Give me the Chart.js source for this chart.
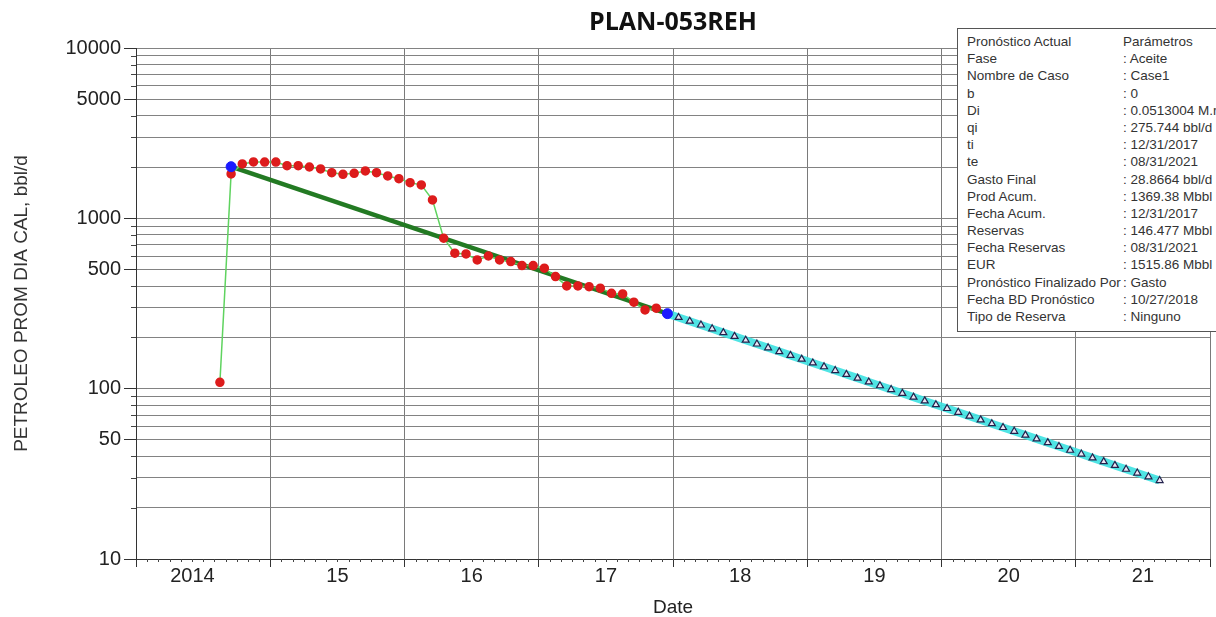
<!DOCTYPE html>
<html>
<head>
<meta charset="utf-8">
<title>PLAN-053REH</title>
<script src="https://cdn.jsdelivr.net/npm/chart.js@4.4.1/dist/chart.umd.min.js"></script>
<style>
  html, body { margin: 0; padding: 0; background: #fff; overflow: hidden; }
  #wrap { position: relative; width: 1216px; height: 617px; overflow: hidden; }
  #infoBox {
    position: absolute; left: 957px; top: 28px; width: 290px; height: 304px;
    box-sizing: border-box; border: 1px solid #555; background: #fff;
    padding-top: 4px;
    font-family: "Liberation Sans", Arial, sans-serif; font-size: 13.5px; color: #333;
  }
  .row { position: relative; height: 17.2px; line-height: 17.2px; white-space: nowrap; }
  .row .k { position: absolute; left: 9px; }
  .row .v { position: absolute; left: 165px; }
</style>
</head>
<body>
<div id="wrap">
  <canvas id="declineChart" width="1216" height="617"></canvas>
  <div id="infoBox"></div>
</div>
<script>
// x axis: years (labels sit inside each year)
const yearLabels = ['2014', '15', '16', '17', '18', '19', '20', '21'];
const xMin = 2014;
const xMax = 2022;

// y axis (log)
const yGridValues = [10, 20, 30, 40, 50, 60, 70, 80, 90,
  100, 200, 300, 400, 500, 600, 700, 800, 900,
  1000, 2000, 3000, 4000, 5000, 6000, 7000, 8000, 9000, 10000];
const yLabelValues = [10, 50, 100, 500, 1000, 5000, 10000];

// monthly history, bbl/d
const histMonths = [
  '2014-08', '2014-09', '2014-10', '2014-11', '2014-12',
  '2015-01', '2015-02', '2015-03', '2015-04', '2015-05', '2015-06',
  '2015-07', '2015-08', '2015-09', '2015-10', '2015-11', '2015-12',
  '2016-01', '2016-02', '2016-03', '2016-04', '2016-05', '2016-06',
  '2016-07', '2016-08', '2016-09', '2016-10', '2016-11', '2016-12',
  '2017-01', '2017-02', '2017-03', '2017-04', '2017-05', '2017-06',
  '2017-07', '2017-08', '2017-09', '2017-10', '2017-11'
];
const histRates = [
  109, 1822, 2085, 2143, 2140,
  2140, 2038, 2038, 2002, 1949, 1854,
  1814, 1839, 1897, 1854, 1773, 1710,
  1620, 1571, 1283, 764, 624, 618,
  570, 601, 570, 557, 528, 528,
  510, 455, 401, 401, 397, 389,
  363, 360, 322, 290, 297
];

// fitted decline (start / end points)
const fitMonths = ['2014-09', '2017-12'];
const fitRates = [2010, 275.744];

// forecast, monthly
const forecastMonths = [
  '2017-12',
  '2018-01', '2018-02', '2018-03', '2018-04', '2018-05', '2018-06',
  '2018-07', '2018-08', '2018-09', '2018-10', '2018-11', '2018-12',
  '2019-01', '2019-02', '2019-03', '2019-04', '2019-05', '2019-06',
  '2019-07', '2019-08', '2019-09', '2019-10', '2019-11', '2019-12',
  '2020-01', '2020-02', '2020-03', '2020-04', '2020-05', '2020-06',
  '2020-07', '2020-08', '2020-09', '2020-10', '2020-11', '2020-12',
  '2021-01', '2021-02', '2021-03', '2021-04', '2021-05', '2021-06',
  '2021-07', '2021-08'
];
const forecastRates = [
  275.74,
  261.96, 248.86, 236.41, 224.59, 213.36, 202.69,
  192.55, 182.92, 173.78, 165.09, 156.83, 148.99,
  141.54, 134.46, 127.74, 121.35, 115.28, 109.52,
  104.04, 98.84, 93.89, 89.20, 84.74, 80.50,
  76.48, 72.65, 69.02, 65.57, 62.29, 59.17,
  56.21, 53.40, 50.73, 48.20, 45.79, 43.50,
  41.32, 39.25, 37.29, 35.43, 33.65, 31.97,
  30.37, 28.87
];

// parameter box
const infoLabels = ['Pronóstico Actual', 'Fase', 'Nombre de Caso', 'b', 'Di', 'qi', 'ti', 'te',
  'Gasto Final', 'Prod Acum.', 'Fecha Acum.', 'Reservas', 'Fecha Reservas', 'EUR',
  'Pronóstico Finalizado Por', 'Fecha BD Pronóstico', 'Tipo de Reserva'];
const infoValues = ['Parámetros', ': Aceite', ': Case1', ': 0', ': 0.0513004 M.n', ': 275.744 bbl/d',
  ': 12/31/2017', ': 08/31/2021', ': 28.8664 bbl/d', ': 1369.38 Mbbl', ': 12/31/2017',
  ': 146.477 Mbbl', ': 08/31/2021', ': 1515.86 Mbbl', ': Gasto', ': 10/27/2018', ': Ninguno'];

// build the info box
const infoBox = document.getElementById('infoBox');
infoLabels.forEach((label, i) => {
  const row = document.createElement('div');
  row.className = 'row';
  row.innerHTML = `<span class="k">${label}</span><span class="v">${infoValues[i]}</span>`;
  infoBox.appendChild(row);
});

// 'YYYY-MM' -> decimal year, middle of the month
function toYear(month) {
  const [y, m] = month.split('-').map(Number);
  return y + (m - 0.5) / 12;
}
function toPoints(months, rates) {
  return months.map((m, i) => ({ x: toYear(m), y: rates[i] }));
}

// year boundaries + one label tick inside each year (first one sits a bit left, like the original)
const xTickValues = [];
for (let yr = xMin; yr <= xMax; yr++) {
  xTickValues.push(yr);
  if (yr < xMax) xTickValues.push(yr + (yr === xMin ? 0.42 : 0.5));
}

// short monthly ticks on x, short ticks for unlabeled y lines
const minorTicks = {
  id: 'minorTicks',
  afterDraw(chart) {
    const { ctx, scales: { x, y }, chartArea } = chart;
    ctx.save();
    ctx.strokeStyle = '#444';
    ctx.lineWidth = 1;
    ctx.beginPath();
    for (let yr = xMin; yr < xMax; yr++) {
      for (let m = 1; m < 12; m++) {
        const px = Math.round(x.getPixelForValue(yr + m / 12)) + 0.5;
        ctx.moveTo(px, chartArea.bottom);
        ctx.lineTo(px, chartArea.bottom + 3);
      }
    }
    yGridValues.forEach(v => {
      if (yLabelValues.includes(v)) return;
      const py = Math.round(y.getPixelForValue(v)) + 0.5;
      ctx.moveTo(chartArea.left - 5, py);
      ctx.lineTo(chartArea.left, py);
    });
    ctx.stroke();
    ctx.restore();
  }
};

Chart.defaults.font.family = '"Liberation Sans", Arial, sans-serif';

new Chart(document.getElementById('declineChart'), {
  type: 'line',
  data: {
    datasets: [
      {
        label: 'Puntos ajuste',
        data: toPoints(fitMonths, fitRates),
        showLine: false,
        pointRadius: 5,
        pointBackgroundColor: '#1a1aff',
        pointBorderColor: '#1a1aff',
        order: 0
      },
      {
        label: 'Historia',
        data: toPoints(histMonths, histRates),
        borderColor: '#5fd35f',
        borderWidth: 1.5,
        pointRadius: 4,
        pointBackgroundColor: '#dd1c1c',
        pointBorderColor: '#dd1c1c',
        tension: 0,
        order: 1
      },
      {
        label: 'Ajuste',
        data: toPoints(fitMonths, fitRates),
        borderColor: '#237a23',
        borderWidth: 4.5,
        pointRadius: 0,
        order: 2
      },
      {
        label: 'Pronóstico',
        data: toPoints(forecastMonths, forecastRates),
        borderColor: 'rgba(60, 225, 225, 0.9)',
        borderWidth: 8,
        pointStyle: 'triangle',
        pointRadius: ctx => ctx.dataIndex === 0 ? 0 : 4,
        pointBackgroundColor: '#ece6f4',
        pointBorderColor: '#22224c',
        pointBorderWidth: 1.2,
        order: 3
      }
    ]
  },
  options: {
    responsive: false,
    animation: false,
    layout: { padding: { top: 0, right: 4, bottom: 0, left: 0 } },
    plugins: {
      legend: { display: false },
      tooltip: { enabled: false },
      title: {
        display: true,
        text: 'PLAN-053REH',
        fullSize: false,
        color: '#111',
        font: { family: '"Open Sans", sans-serif', size: 25, weight: 'bold', lineHeight: 1.2 },
        padding: { top: 8, bottom: 10 }
      }
    },
    scales: {
      x: {
        type: 'linear',
        min: xMin,
        max: xMax,
        afterBuildTicks: scale => { scale.ticks = xTickValues.map(v => ({ value: v })); },
        afterFit: scale => { scale.height = 58; },
        border: { color: '#333', width: 1 },
        grid: {
          color: c => Number.isInteger(c.tick.value) ? '#7a7a7a' : 'rgba(0,0,0,0)',
          tickColor: c => Number.isInteger(c.tick.value) ? '#333' : 'rgba(0,0,0,0)',
          tickLength: 8,
          lineWidth: 1
        },
        ticks: {
          autoSkip: false,
          maxRotation: 0,
          padding: -1,
          color: '#222',
          font: { size: 20, lineHeight: 1 },
          callback: value => Number.isInteger(value) ? '' : yearLabels[Math.floor(value) - xMin]
        },
        title: {
          display: true,
          text: 'Date',
          color: '#222',
          font: { size: 19, lineHeight: 1 },
          padding: { top: 0, bottom: 0 }
        }
      },
      y: {
        type: 'logarithmic',
        min: 10,
        max: 10000,
        afterBuildTicks: scale => { scale.ticks = yGridValues.map(v => ({ value: v })); },
        afterFit: scale => { scale.width = 136; },
        border: { color: '#333', width: 1 },
        grid: {
          color: '#828282',
          tickColor: c => yLabelValues.includes(c.tick.value) ? '#333' : 'rgba(0,0,0,0)',
          tickLength: 12,
          lineWidth: 1
        },
        ticks: {
          autoSkip: false,
          padding: 3,
          color: '#222',
          font: { size: 20 },
          callback: value => yLabelValues.includes(value) ? String(value) : ''
        },
        title: {
          display: true,
          text: 'PETROLEO PROM DIA CAL, bbl/d',
          color: '#333',
          font: { size: 19, lineHeight: 1 },
          padding: { top: 12, bottom: 0 }
        }
      }
    }
  },
  plugins: [minorTicks]
});
</script>
</body>
</html>
